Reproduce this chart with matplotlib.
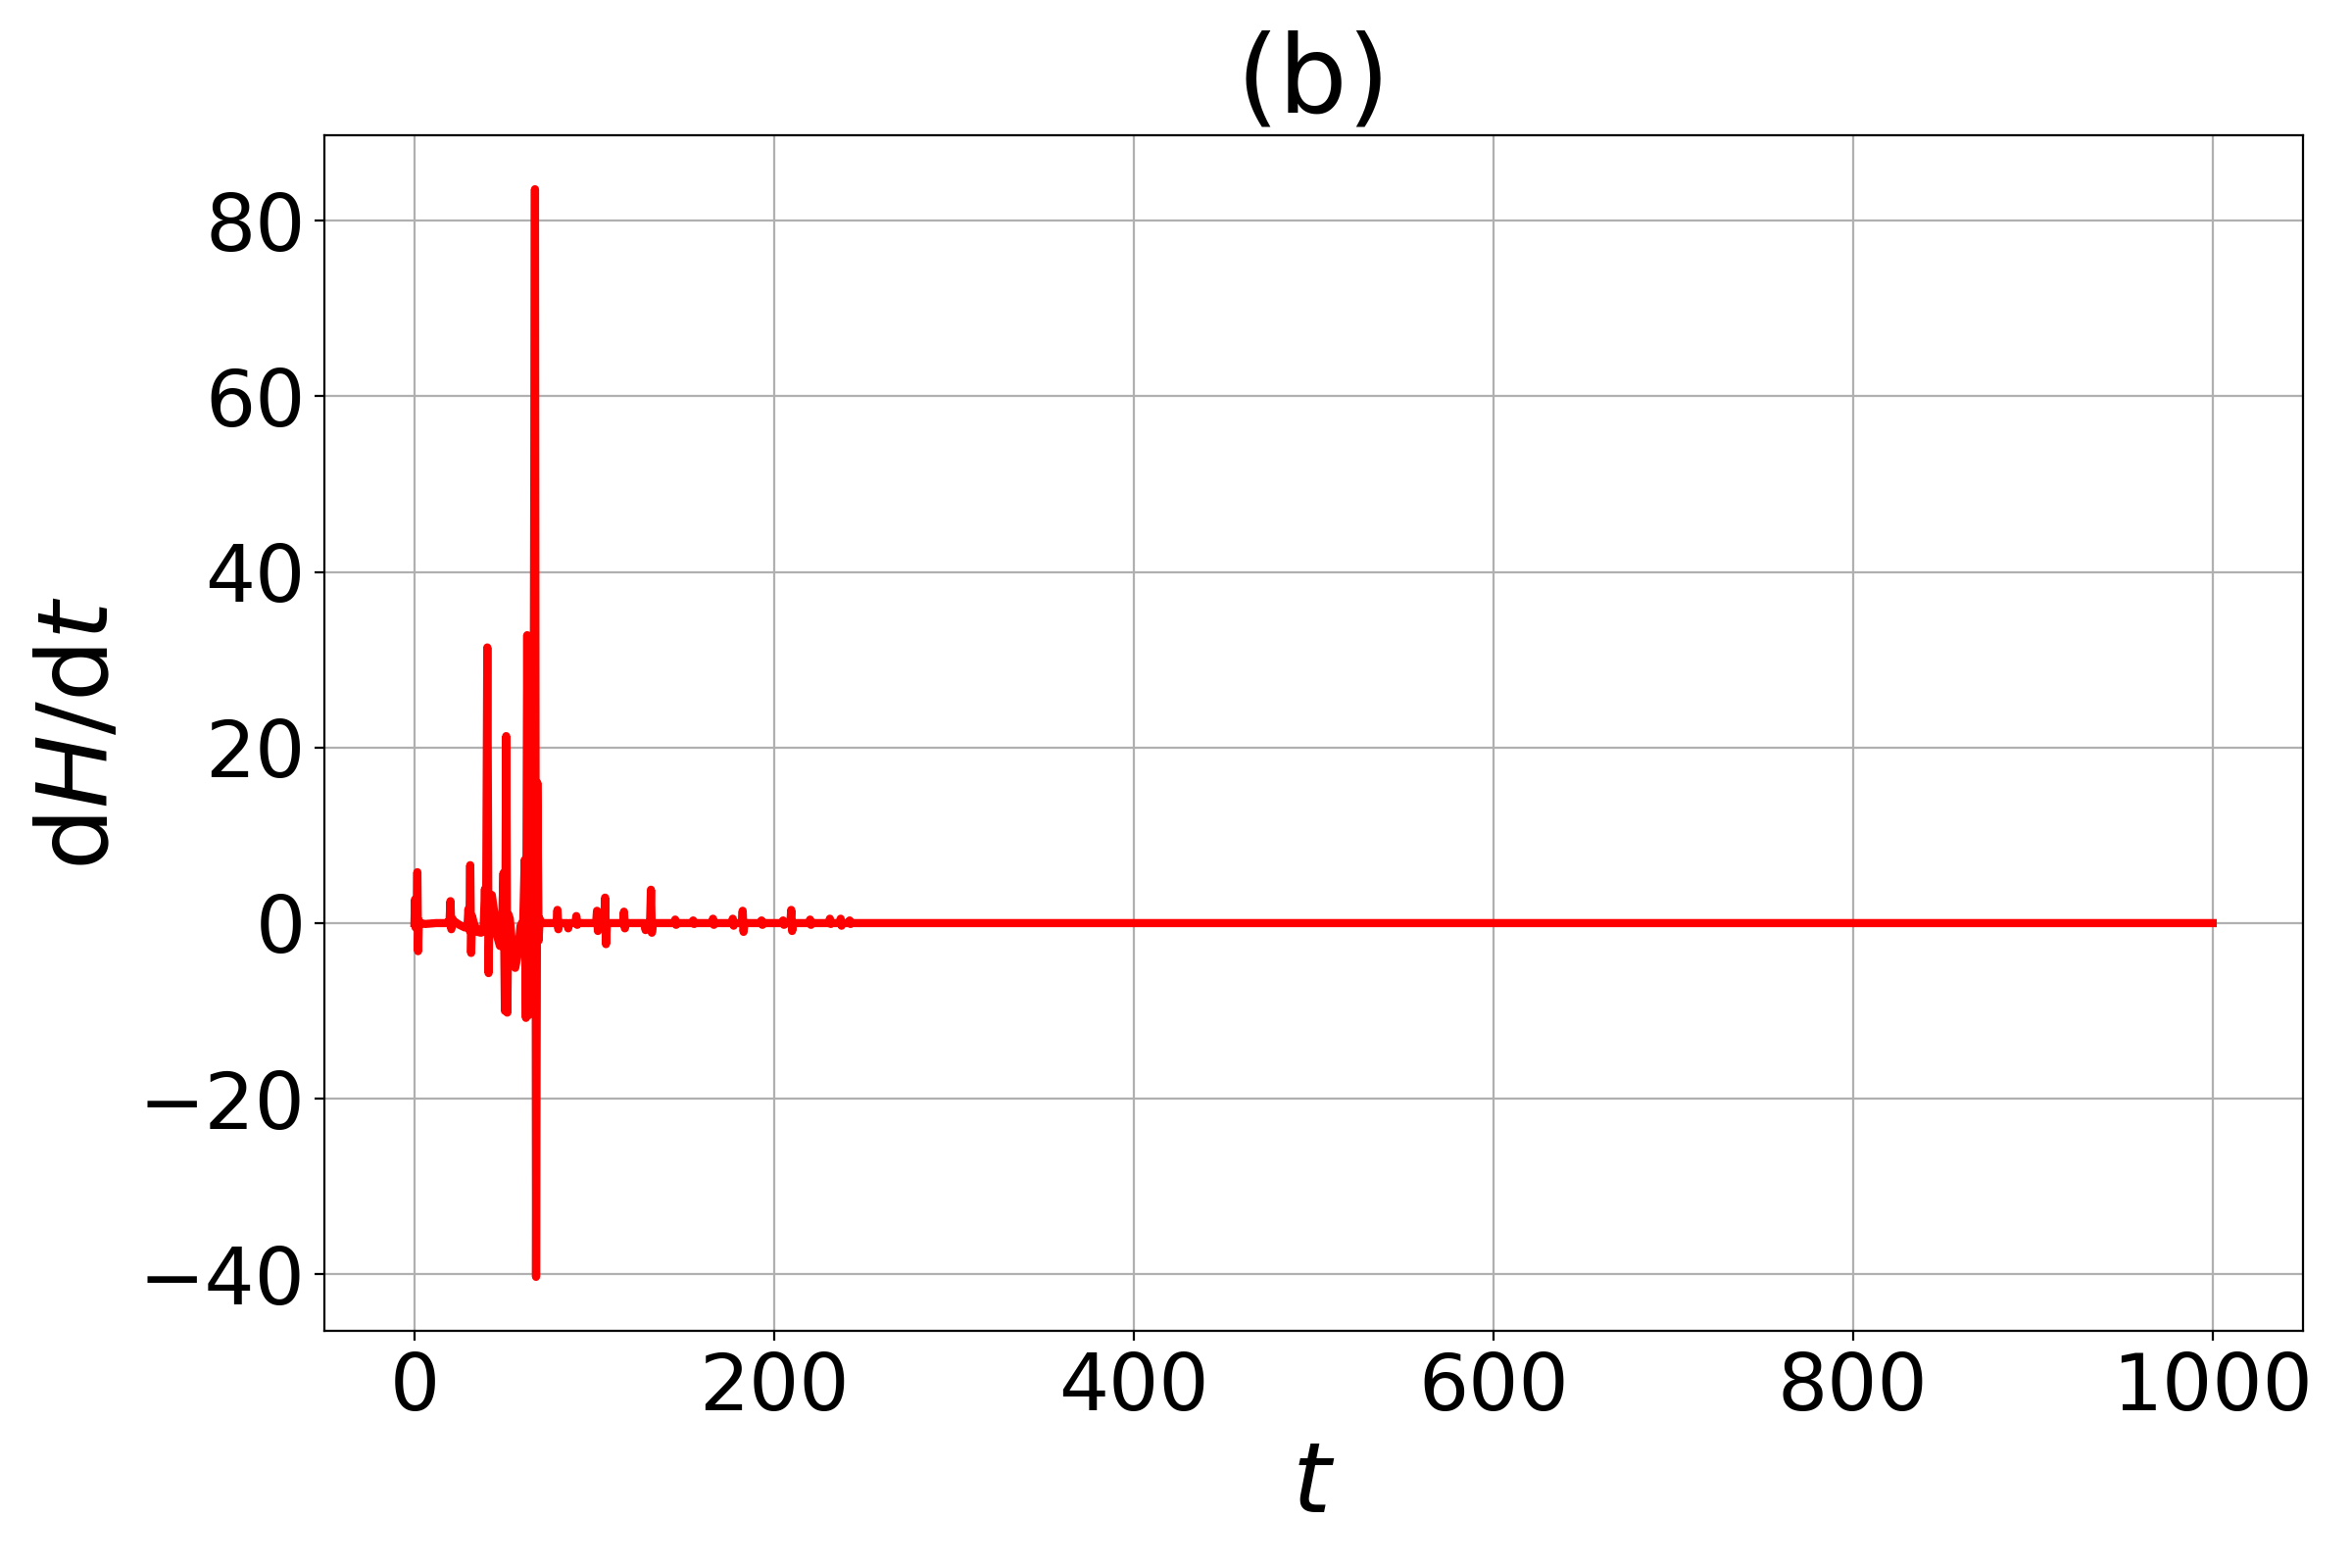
import numpy as np
import matplotlib
matplotlib.use('Agg')
import matplotlib.pyplot as plt

# time points and dH/dt values
t_vals = [0, 0.3, 0.6, 1.2, 1.6, 2.0, 2.4, 3, 6, 12, 18, 19.5, 20, 20.5, 21, 22,
          25, 28, 29.5, 30, 30.5, 31, 31.5, 32, 33, 35, 37, 38.5, 39.2, 39.8,
          40.5, 41.2, 41.8, 43, 44.5, 46, 47.5, 48.5, 49.5, 50.3, 51, 51.6,
          52.2, 53, 54.5, 56, 57.5, 59, 60.5, 61.3, 62, 62.7, 63.4, 64, 64.6,
          65.3, 66, 67, 67.6, 68.3, 69, 69.6, 70.5, 75,
          79, 79.5, 80, 80.5, 85, 85.5, 86, 89.5, 90, 90.5, 91,
          101, 101.5, 102, 102.5, 105.5, 106, 106.5, 107,
          116, 116.5, 117, 117.5, 128, 128.5, 129, 131, 131.5, 132, 132.5,
          144.5, 145, 145.5, 146, 154.5, 155, 155.5, 156,
          165.5, 166, 166.5, 167, 176.5, 177, 177.5, 178,
          182, 182.5, 183, 183.5, 192.5, 193, 193.5, 194,
          204.5, 205, 205.5, 206, 209, 209.5, 210, 210.5,
          219.5, 220, 220.5, 221, 230.5, 231, 231.5, 232,
          236.5, 237, 237.5, 238, 241.5, 242, 242.5, 243, 1000]
dHdt = [0, 2.7, -0.5, 0.5, 5.8, -3.2, 0.3, 0, -0.1, 0, 0, 0.3, 2.5, -0.7, 0.5, 0.2,
        -0.2, -0.5, -0.3, 1.6, -0.8, 6.6, -3.4, 0.8, 0, -1.0, -1.1, -0.3, 3.9, -1.0,
        31.4, -5.7, 3.0, 3.2, 1.0, -1.5, -2.6, -1.5, 5.7, -10.0, 21.3, -10.2,
        1.0, 0.5, -3.0, -5.1, -3.5, -0.3, 0.3, 7.2, -10.8, 32.8, -10.5, 32.6, -9.0,
        7.0, -3.0, 83.6, -40.3, 16.0, -2.0, 0.5, 0, 0,
        0, 1.5, -0.7, 0, 0, -0.6, 0, 0, 0.8, -0.2, 0,
        0, 1.4, -0.9, 0, 0, 2.9, -2.4, 0,
        0, 1.3, -0.6, 0, 0, -0.8, 0, 0, 3.8, -1.1, 0,
        0, 0.4, -0.2, 0, 0, 0.3, -0.1, 0,
        0, 0.5, -0.2, 0, 0, 0.5, -0.3, 0,
        0, 1.4, -1.0, 0, 0, 0.3, -0.2, 0,
        0, 0.3, -0.2, 0, 0, 1.5, -0.9, 0,
        0, 0.4, -0.2, 0, 0, 0.5, -0.1, 0,
        0, 0.5, -0.3, 0, 0, 0.3, -0.1, 0, 0]

fig = plt.figure(figsize=(12, 8), dpi=200)
ax = fig.add_axes([0.138, 0.151, 0.841, 0.763])
ax.plot(t_vals, dHdt, color='red', linewidth=3)
ax.grid(True)
ax.set_title('(b)', fontsize=40)
ax.set_xlabel(r'$t$', fontsize=36)
ax.set_ylabel(r'd$H$/d$t$', fontsize=36)
ax.tick_params(labelsize=29)

plt.savefig('out.png', dpi=200)
